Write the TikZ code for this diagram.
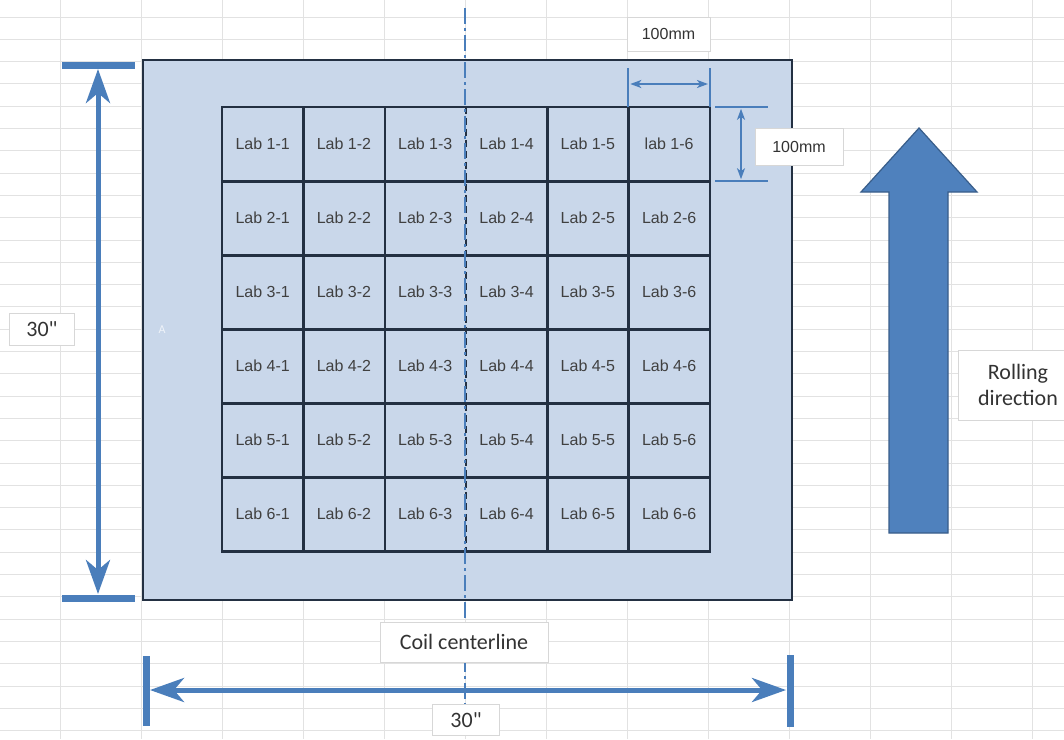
\documentclass[tikz,border=0pt]{standalone}
\usepackage{fontspec}
\setmainfont{Carlito}
\newfontfamily\tagfont{Carlito}
\newfontfamily\arialfont{Liberation Sans}
\usetikzlibrary{arrows.meta, positioning, calc}
\definecolor{plateblue}{RGB}{201, 215, 234}
\definecolor{navy}{RGB}{35, 48, 66}
\definecolor{dimblue}{RGB}{74, 126, 187}
\definecolor{arrowfill}{RGB}{79, 129, 189}
\definecolor{arrowedge}{RGB}{56, 93, 138}
\definecolor{labgray}{RGB}{64, 64, 64}
\definecolor{sheetline}{RGB}{226, 226, 226}
\definecolor{tagedge}{RGB}{215, 215, 215}

\begin{document}
\begin{tikzpicture}[
  x=1pt, y=-1pt,
  sheetgrid/.style={draw=sheetline, line width=1pt},
  plate/.style={draw=navy, fill=plateblue, line width=2pt},
  labcell/.style={minimum width=81.3, minimum height=74, inner sep=0,
    font=\arialfont\fontsize{16}{16}\selectfont, text=labgray},
  cellline/.style={draw=navy, line width=2.6pt},
  bigdim/.style={draw=dimblue, line width=5pt,
    {Stealth[length=34pt, width=24pt, inset=10pt]}-{Stealth[length=34pt, width=24pt, inset=10pt]}},
  dimbar/.style={draw=dimblue, line width=7pt},
  smalldim/.style={draw=dimblue, line width=1.8pt,
    {Stealth[length=11pt, width=8pt, inset=3pt]}-{Stealth[length=11pt, width=8pt, inset=3pt]}},
  dimtick/.style={draw=dimblue, line width=1.8pt},
  tag/.style={draw=tagedge, fill=white, line width=0.8pt, inner sep=0, align=center, text=black!80},
  bigtag/.style={tag, font=\tagfont\fontsize{22}{26}\selectfont},
  mmtag/.style={tag, font=\arialfont\fontsize{16}{16}\selectfont},
  centreline/.style={draw=dimblue, line width=1.4pt, dash pattern=on 16pt off 4pt on 3pt off 4pt}
]
\useasboundingbox (0,0) rectangle (1064,739);
\clip (0,0) rectangle (1064,739);
\fill[white] (0,0) rectangle (1064,739);

% spreadsheet background
\foreach \i in {0,...,12}
  \draw[sheetgrid] (60+81*\i,0) -- (60+81*\i,739);
\foreach \j in {0,...,32}
  \draw[sheetgrid] (0,17+22.3*\j) -- (1064,17+22.3*\j);

% steel plate
\node[plate, minimum width=649, minimum height=540, inner sep=0] (plate) at (467.5,330) {};
\node[text=white, opacity=0.7, font=\fontsize{12}{12}\selectfont] (mark) at (162,330) {A};

% lab sample cells
\foreach \r in {1,...,6}
  \foreach \c in {1,...,6}
    \node[labcell] (c\r\c) at (262.65+81.3*\c-81.3, 144+74*\r-74)
      {\ifnum\r\c=16 lab\else Lab\fi{} \r-\c};

\draw[cellline] (c11.north west) rectangle (c66.south east);
\foreach \c in {1,2,4,5}
  \draw[cellline] (c1\c.north east) -- (c6\c.south east);
\draw[cellline, dash pattern=on 7pt off 4pt] (c13.north east) -- (c63.south east);
\foreach \r in {1,...,5}
  \draw[cellline] (c\r1.south west) -- (c\r6.south east);

% coil centreline
\coordinate (clTop) at (465,8);
\coordinate (clBot) at (465,706);
\draw[centreline] (clTop) -- (clBot);

% left dimension (30")
\coordinate (lTop) at (98,65);
\coordinate (lBot) at (98,598);
\draw[dimbar] (62,65) -- (135,65);
\draw[dimbar] (62,598) -- (135,598);
\draw[bigdim] ($(lTop)+(0,4)$) -- ($(lBot)+(0,-4)$);
\node[bigtag, minimum width=65, minimum height=32] (leftlen) at (42,329) {30"};

% bottom dimension (30")
\coordinate (bLeft) at (146,690);
\coordinate (bRight) at (790,690);
\draw[dimbar] (146,656) -- (146,726);
\draw[dimbar] (790,655) -- (790,727);
\draw[bigdim] ($(bLeft)+(4,0)$) -- ($(bRight)+(-4,0)$);
\node[bigtag, minimum width=168, minimum height=40] (coil) at (464,642) {Coil centerline};
\node[bigtag, minimum width=67, minimum height=31] (bottomlen) at (466,720) {30"};

% cell width (100mm)
\draw[dimtick] (c16.north west |- 0,68) -- (c16.north west);
\draw[dimtick] (c16.north east |- 0,68) -- (c16.north east);
\draw[smalldim] ($(c16.north west |- 0,84)+(2,0)$) -- ($(c16.north east |- 0,84)+(-2,0)$);
\node[mmtag, minimum width=83, minimum height=34] (cellw) at (668.5,34) {100mm};

% cell height (100mm)
\draw[dimtick] ($(c16.north east)+(5,0)$) -- ++(53,0);
\draw[dimtick] ($(c16.south east)+(5,0)$) -- ++(53,0);
\draw[smalldim] ($(c16.north east)+(31,2)$) -- ($(c16.south east)+(31,-2)$);
\node[mmtag, minimum width=88, minimum height=37] (cellh) at (799,147) {100mm};

% rolling direction
\draw[fill=arrowfill, draw=arrowedge, line width=1.2pt]
  (889,533) -- (889,192) -- (861,192) -- (919,128) -- (977,192)
  -- (948,192) -- (948,533) -- cycle;
\node[bigtag, minimum width=120, minimum height=70] (roll) at (1018,385) {Rolling\\direction};
\end{tikzpicture}
\end{document}
